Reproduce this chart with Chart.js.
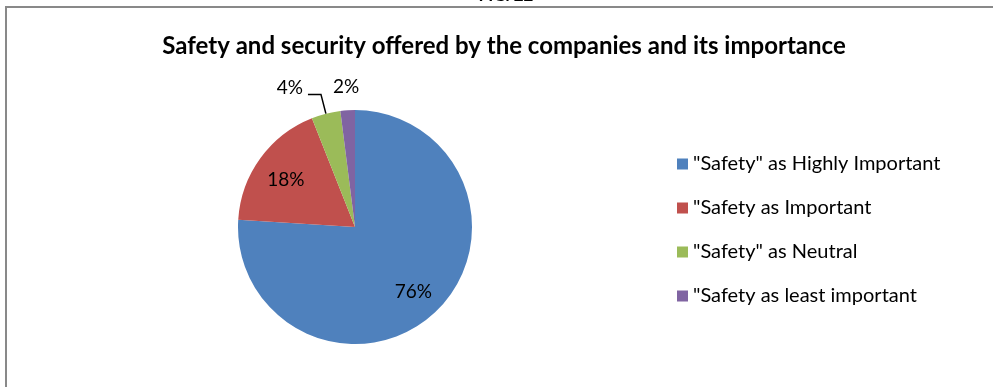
<!DOCTYPE html>
<html>
<head>
<meta charset="utf-8">
<script src="https://cdn.jsdelivr.net/npm/chart.js@4.4.1/dist/chart.umd.min.js"></script>
<style>
  body { margin: 0; background: #fff; }
  canvas { display: block; }
</style>
</head>
<body>
<canvas id="safetyPie" width="993" height="387"></canvas>
<script>
const categories = [
  '"Safety" as Highly Important',
  '"Safety as Important',
  '"Safety" as Neutral',
  '"Safety as least important'
];
const shares = [76, 18, 4, 2];
const sliceColors = ['#4F81BD', '#C0504D', '#9BBB59', '#8064A2'];
const chartTitle = 'Safety and security offered by the companies and its importance';
const figCaption = 'FIG. 22';

const FONT = 'Lato, "Open Sans", sans-serif';

// white page, grey frame, cut-off caption and the bold title
const framePlugin = {
  id: 'frame',
  beforeDraw(chart) {
    const ctx = chart.ctx;
    ctx.save();
    ctx.fillStyle = '#fff';
    ctx.fillRect(0, 0, chart.width, chart.height);

    ctx.strokeStyle = '#898989';
    ctx.lineWidth = 2;
    ctx.beginPath();
    ctx.moveTo(6, chart.height + 4);
    ctx.lineTo(6, 7);
    ctx.lineTo(chart.width + 4, 7);
    ctx.stroke();

    ctx.fillStyle = '#000';
    ctx.textAlign = 'center';
    ctx.textBaseline = 'alphabetic';
    ctx.font = 'bold 17px ' + FONT;
    ctx.fillText(figCaption, 506, 1);

    ctx.font = 'bold 24px ' + FONT;
    ctx.textBaseline = 'middle';
    ctx.fillText(chartTitle, 504, 46);
    ctx.restore();
  }
};

// percentage labels: big slices inside, small ones outside (with elbow leader if crowded)
const sliceLabels = {
  id: 'sliceLabels',
  afterDatasetsDraw(chart) {
    const ctx = chart.ctx;
    const meta = chart.getDatasetMeta(0);
    const values = chart.data.datasets[0].data;
    const total = values.reduce((a, b) => a + b, 0);
    ctx.save();
    ctx.font = '19px ' + FONT;
    ctx.fillStyle = '#000';
    ctx.strokeStyle = '#000';
    ctx.lineWidth = 1.5;
    ctx.textBaseline = 'middle';

    let rightNeighbourLeft = Infinity;
    for (let i = meta.data.length - 1; i >= 0; i--) {
      const arc = meta.data[i];
      const { x, y, startAngle, endAngle, outerRadius } = arc.getProps(['x', 'y', 'startAngle', 'endAngle', 'outerRadius'], true);
      const mid = (startAngle + endAngle) / 2;
      const text = Math.round(values[i] / total * 100) + '%';
      const w = ctx.measureText(text).width;

      if (values[i] / total >= 0.1) {
        ctx.textAlign = 'center';
        ctx.fillText(text, x + Math.cos(mid) * outerRadius * 0.73, y + Math.sin(mid) * outerRadius * 0.73 + 3);
        continue;
      }

      const lx = x + Math.cos(mid) * outerRadius * 1.2;
      const ly = y + Math.sin(mid) * outerRadius * 1.2;
      if (lx + w / 2 <= rightNeighbourLeft - 2) {
        ctx.textAlign = 'center';
        ctx.fillText(text, lx, ly);
        rightNeighbourLeft = lx - w / 2;
      } else {
        const ex = x + Math.cos(mid) * outerRadius;
        const ey = y + Math.sin(mid) * outerRadius;
        const kx = x + Math.cos(mid) * outerRadius * 1.17;
        const ky = y + Math.sin(mid) * outerRadius * 1.17;
        const hx = kx - 13;
        ctx.beginPath();
        ctx.moveTo(ex, ey);
        ctx.lineTo(kx, ky);
        ctx.lineTo(hx, ky);
        ctx.stroke();
        ctx.textAlign = 'right';
        ctx.fillText(text, hx - 5, ky - 7);
        rightNeighbourLeft = hx - 5 - w;
      }
    }
    ctx.restore();
  }
};

// legend on the right, one row per slice
const sideLegend = {
  id: 'sideLegend',
  afterDraw(chart) {
    const ctx = chart.ctx;
    const items = chart.options.plugins.legend.labels.generateLabels(chart);
    ctx.save();
    ctx.font = '20px ' + FONT;
    ctx.textAlign = 'left';
    ctx.textBaseline = 'middle';
    items.forEach((item, i) => {
      const rowY = 164 + i * 44;
      ctx.fillStyle = item.fillStyle;
      ctx.fillRect(677, rowY - 5.5, 11, 11);
      ctx.fillStyle = '#000';
      ctx.fillText(item.text, 693, rowY);
    });
    ctx.restore();
  }
};

new Chart(document.getElementById('safetyPie'), {
  type: 'pie',
  data: {
    labels: categories,
    datasets: [{
      data: shares,
      backgroundColor: sliceColors,
      borderWidth: 0
    }]
  },
  options: {
    responsive: false,
    animation: false,
    layout: {
      padding: { left: 238, right: 521, top: 110, bottom: 43 }
    },
    plugins: {
      legend: { display: false },
      title: { display: false },
      tooltip: { enabled: false }
    }
  },
  plugins: [framePlugin, sliceLabels, sideLegend]
});
</script>
</body>
</html>
